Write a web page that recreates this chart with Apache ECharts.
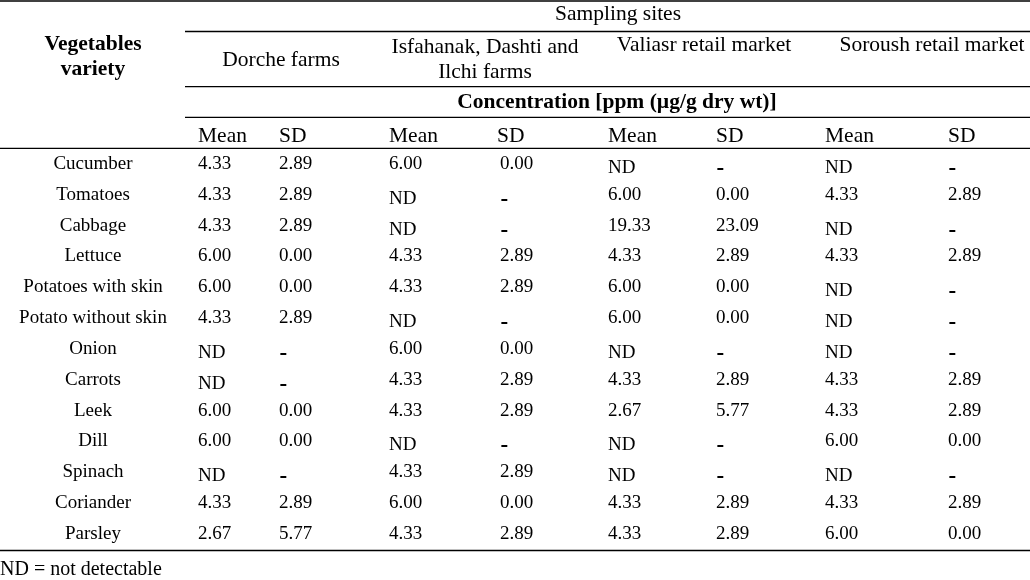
<!DOCTYPE html>
<html>
<head>
<meta charset="utf-8">
<script src="https://cdn.jsdelivr.net/npm/echarts@6/dist/echarts.min.js"></script>
<style>
html,body{margin:0;padding:0;background:#fff;}
#chart{width:1030px;height:580px;}
</style>
</head>
<body>
<div id="chart"></div>
<script>
// ---- data ----
const vegetables = ['Cucumber','Tomatoes','Cabbage','Lettuce','Potatoes with skin','Potato without skin','Onion','Carrots','Leek','Dill','Spinach','Coriander','Parsley'];
const sites = ['Dorche farms','Isfahanak, Dashti and\nIlchi farms','Valiasr retail market','Soroush retail market'];
const columnHeaders = ['Mean','SD','Mean','SD','Mean','SD','Mean','SD'];
// null = ND (not detectable)
const dorcheMean = [4.33,4.33,4.33,6.00,6.00,4.33,null,null,6.00,6.00,null,4.33,2.67];
const dorcheSD   = [2.89,2.89,2.89,0.00,0.00,2.89,null,null,0.00,0.00,null,2.89,5.77];
const isfMean    = [6.00,null,null,4.33,4.33,null,6.00,4.33,4.33,null,4.33,6.00,4.33];
const isfSD      = [0.00,null,null,2.89,2.89,null,0.00,2.89,2.89,null,2.89,0.00,2.89];
const valMean    = [null,6.00,19.33,4.33,6.00,6.00,null,4.33,2.67,null,null,4.33,4.33];
const valSD      = [null,0.00,23.09,2.89,0.00,0.00,null,2.89,5.77,null,null,2.89,2.89];
const sorMean    = [null,4.33,null,4.33,null,null,null,4.33,4.33,6.00,null,4.33,6.00];
const sorSD      = [null,2.89,null,2.89,null,null,null,2.89,2.89,0.00,null,2.89,0.00];

// ---- layout ----
const colX = [198,279,389,500,608,716,825,948];
const serif = 'Liberation Serif';
const columns = [dorcheMean,dorcheSD,isfMean,isfSD,valMean,valSD,sorMean,sorSD];

const cells = [];
columns.forEach((col, ci) => {
  col.forEach((v, ri) => {
    const isMean = ci % 2 === 0;
    const nd = v === null;
    cells.push({ col: ci, row: ri, nd: nd, dash: nd && !isMean,
      text: nd ? (isMean ? 'ND' : '-') : v.toFixed(2) });
  });
});

const chart = echarts.init(document.getElementById('chart'), null, {renderer: 'canvas'});

const hLine = (x1, y, x2) => ({ type: 'line', shape: {x1: x1, y1: y, x2: x2, y2: y}, style: {stroke: '#000', lineWidth: 1.3}, silent: true });
const txt = (x, y, text, opts) => ({ type: 'text', x: x, y: y, silent: true,
  style: Object.assign({ text: text, fill: '#000', font: '21.5px "' + serif + '"', align: 'center', verticalAlign: 'middle' }, opts || {}) });

const graphics = [
  hLine(0, 1, 1030), hLine(185, 31.5, 1030), hLine(185, 86.7, 1030), hLine(185, 117.3, 1030), hLine(0, 148.3, 1030), hLine(0, 550.5, 1030),
  txt(618, 14, 'Sampling sites'),
  txt(93, 56.5, 'Vegetables\nvariety', { font: 'bold 21.5px "' + serif + '"', lineHeight: 25 }),
  txt(281, 60, sites[0]),
  txt(485, 59.5, sites[1], { lineHeight: 25 }),
  txt(704, 45, sites[2]),
  txt(932, 45, sites[3]),
  txt(617, 102, 'Concentration [ppm (µg/g dry wt)]', { font: 'bold 21.5px "' + serif + '"' }),
  txt(0, 570, 'ND = not detectable', { align: 'left', font: '20px "' + serif + '"' })
];
columnHeaders.forEach((h, i) => graphics.push(txt(colX[i] - (i === 3 ? 3 : 0), 136, h, { align: 'left' })));

chart.setOption({
  animation: false,
  backgroundColor: '#fff',
  grid: { left: 0, right: 0, top: 148.6, height: 400.8 },
  xAxis: { type: 'value', min: 0, max: 1030, show: false },
  yAxis: {
    type: 'category', data: vegetables, inverse: true,
    axisLine: { show: false }, axisTick: { show: false }, splitLine: { show: false },
    axisLabel: { margin: -93, align: 'center', fontSize: 19, fontFamily: serif, color: '#000' }
  },
  graphic: graphics,
  series: [{
    type: 'custom',
    coordinateSystem: 'cartesian2d',
    data: cells.map(c => [colX[c.col], c.row]),
    renderItem: function (params, api) {
      const c = cells[params.dataIndex];
      const p = api.coord([api.value(0), api.value(1)]);
      return {
        type: 'text', x: p[0] + (c.dash ? 0.5 : 0), y: p[1] + (c.dash ? 5 : (c.nd ? 4 : 0)),
        style: {
          text: c.text, fill: '#000',
          font: c.dash ? 'bold 23px "' + serif + '"' : '19px "' + serif + '"',
          align: 'left', verticalAlign: 'middle'
        }
      };
    }
  }]
});
</script>
</body>
</html>
